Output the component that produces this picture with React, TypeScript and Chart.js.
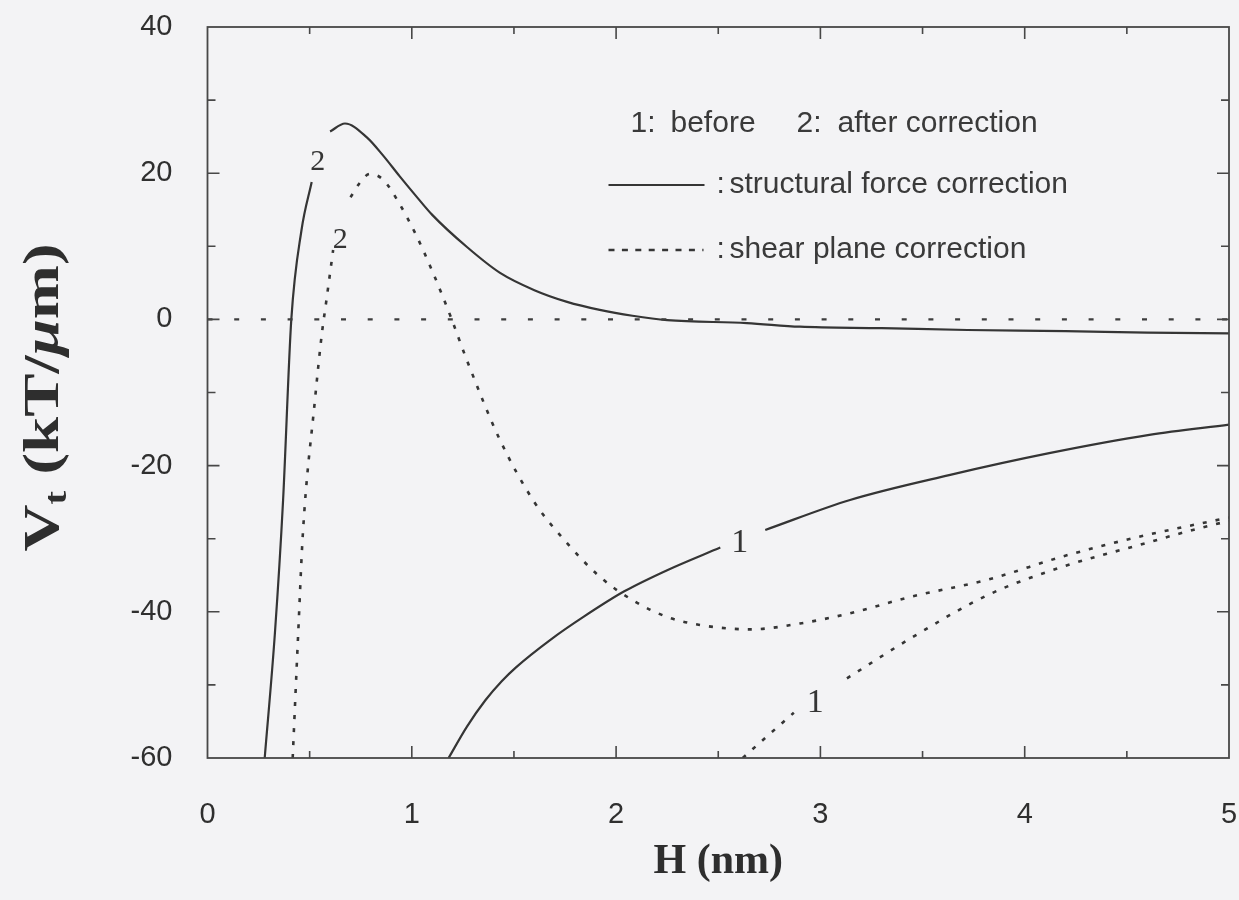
import { useEffect, useRef } from 'react';
import { Chart, registerables } from 'chart.js';

Chart.register(...registerables);

// Separation distance H (nm) and total interaction energy Vt (kT/µm)
// Curve "2" (after correction), structural force correction
const structAfterH = [0.28, 0.33, 0.37, 0.41, 0.46, 0.51, 0.555, 0.60, 0.673, 0.78, 0.86, 0.94, 1.02, 1.10, 1.27, 1.43, 1.60, 1.76, 1.92, 2.08, 2.25, 2.64, 2.90, 3.30, 3.72, 4.20, 4.60, 5.00];
const structAfterV = [-60, -42.9, -24.7, -0.1, 12.2, 18.8, null, 25.7, 26.8, 24.9, 22.4, 19.6, 16.9, 14.3, 9.9, 6.4, 4.0, 2.4, 1.3, 0.5, -0.1, -0.5, -1.0, -1.2, -1.45, -1.6, -1.8, -1.9];

// Curve "2" (after correction), shear plane correction
const shearAfterH = [0.417, 0.444, 0.467, 0.526, 0.56, 0.58, 0.615, 0.66, 0.70, 0.746, 0.795, 0.86, 0.94, 1.02, 1.105, 1.19, 1.27, 1.43, 1.60, 1.76, 1.92, 2.08, 2.25, 2.41, 2.66, 2.90, 3.13, 3.45, 3.82, 4.19, 4.55, 5.00];
const shearAfterV = [-60, -42.9, -29.2, -11.0, -1.9, 2.2, 9.5, null, 16.7, 18.7, 19.9, 19.1, 15.8, 11.6, 6.3, 0.4, -5.6, -16.4, -25.0, -30.6, -35.2, -38.4, -40.7, -41.8, -42.4, -41.6, -40.3, -37.9, -35.6, -32.4, -29.8, -27.1];

// Curve "1" (before correction), structural force correction
const structBeforeH = [1.18, 1.27, 1.36, 1.44, 1.51, 1.68, 1.84, 2.04, 2.25, 2.51, 2.62, 2.73, 3.145, 3.63, 4.12, 4.61, 5.00];
const structBeforeV = [-60, -55.7, -52.1, -49.5, -47.6, -43.8, -40.7, -37.2, -34.3, -31.2, null, -28.8, -24.7, -21.3, -18.3, -15.8, -14.4];

// Curve "1" (before correction), shear plane correction
const shearBeforeH = [2.62, 2.72, 2.87, 3.0, 3.13, 3.455, 3.82, 4.19, 4.555, 4.92, 5.00];
const shearBeforeV = [-60, -57.5, -53.8, null, -49.1, -43.4, -37.7, -33.8, -30.9, -28.1, -27.6];

// Zero reference line
const zeroH = [0, 5];
const zeroV = [0, 0];

// Curve tags placed on the curves
const tagText = ['2', '2', '1', '1'];
const tagH = [0.54, 0.65, 2.605, 2.975];
const tagV = [21.5, 10.9, -30.6, -52.5];
const tagSize = [30, 30, 34, 34];

// Legend lines
const legendTop = ['1:', 'before', '2:', 'after correction'];
const legendSolid = 'structural force correction';
const legendDotted = 'shear plane correction';

const BG = '#f3f3f5';
const INK = '#353535';
const SANS = '"Liberation Sans", Arial, Helvetica, sans-serif';
const SERIF = '"Liberation Serif", "Times New Roman", serif';

const zip = (hs: number[], vs: (number | null)[]) => hs.map((h, i) => ({ x: h, y: vs[i] }));

const decorPlugin = {
  id: 'decor',
  afterDatasetsDraw(chart: any) {
    const { ctx, chartArea: a, scales } = chart;
    const xs = scales.x;
    const ys = scales.y;
    ctx.save();

    // frame
    ctx.strokeStyle = '#474747';
    ctx.lineWidth = 1.8;
    ctx.strokeRect(a.left, a.top, a.right - a.left, a.bottom - a.top);

    // inward tick marks on all four sides
    ctx.lineWidth = 1.6;
    ctx.beginPath();
    for (let i = 1; i < 10; i++) {
      const px = xs.getPixelForValue(i * 0.5);
      const len = i % 2 === 0 ? 12 : 7;
      ctx.moveTo(px, a.bottom);
      ctx.lineTo(px, a.bottom - len);
      ctx.moveTo(px, a.top);
      ctx.lineTo(px, a.top + len);
    }
    for (let i = 1; i < 10; i++) {
      const py = ys.getPixelForValue(-60 + i * 10);
      const len = i % 2 === 0 ? 12 : 8;
      ctx.moveTo(a.left, py);
      ctx.lineTo(a.left + len, py);
      ctx.moveTo(a.right, py);
      ctx.lineTo(a.right - len, py);
    }
    ctx.stroke();

    // curve tags
    ctx.fillStyle = INK;
    ctx.textAlign = 'center';
    ctx.textBaseline = 'middle';
    tagText.forEach((t, i) => {
      ctx.font = `${tagSize[i]}px ${SERIF}`;
      ctx.fillText(t, xs.getPixelForValue(tagH[i]), ys.getPixelForValue(tagV[i]));
    });

    // legend block
    ctx.textAlign = 'left';
    ctx.font = `30px ${SANS}`;
    ctx.fillStyle = '#3a3a3a';
    const lx = a.left;
    const ty = a.top;
    const topXs = [423, 463, 589, 630];
    legendTop.forEach((s, i) => ctx.fillText(s, lx + topXs[i], ty + 97));

    ctx.strokeStyle = INK;
    ctx.lineWidth = 2;
    ctx.beginPath();
    ctx.moveTo(lx + 401, ty + 158);
    ctx.lineTo(lx + 497, ty + 158);
    ctx.stroke();
    ctx.fillText(':', lx + 509, ty + 158);
    ctx.fillText(legendSolid, lx + 522, ty + 158);

    ctx.lineWidth = 2.4;
    ctx.setLineDash([6, 7.4]);
    ctx.beginPath();
    ctx.moveTo(lx + 401, ty + 223);
    ctx.lineTo(lx + 496, ty + 223);
    ctx.stroke();
    ctx.setLineDash([]);
    ctx.fillText(':', lx + 509, ty + 223);
    ctx.fillText(legendDotted, lx + 522, ty + 223);

    ctx.restore();
  },
  afterDraw(chart: any) {
    const { ctx, chartArea: a } = chart;
    ctx.save();
    const cy = (a.top + a.bottom) / 2 + 5;
    ctx.translate(45, cy);
    ctx.rotate(-Math.PI / 2);
    ctx.scale(1.3, 1);
    ctx.fillStyle = '#2e2e2e';
    ctx.textBaseline = 'middle';
    ctx.textAlign = 'left';
    const big = `bold 50px ${SERIF}`;
    const small = `bold 32px ${SERIF}`;
    const ital = `italic bold 50px ${SERIF}`;
    const parts: [string, string, number][] = [
      ['V', big, 0],
      ['t', small, 13],
      [' (kT/', big, 0],
      ['\u03bc', ital, 0],
      ['m)', big, 0],
    ];
    let total = 0;
    parts.forEach(([s, f]) => { ctx.font = f; total += ctx.measureText(s).width; });
    let x = -total / 2;
    parts.forEach(([s, f, dy]) => {
      ctx.font = f;
      ctx.fillText(s, x, dy);
      x += ctx.measureText(s).width;
    });
    ctx.restore();
  },
};

export default function App() {
  const ref = useRef<HTMLCanvasElement | null>(null);

  useEffect(() => {
    document.body.style.margin = '0';
    document.body.style.background = BG;
    document.body.style.overflow = 'hidden';
    const canvas = ref.current;
    if (!canvas) return;

    const solid = { borderColor: INK, borderWidth: 2.2, pointRadius: 0, fill: false, cubicInterpolationMode: 'monotone' as const, spanGaps: false };
    const dotted = { ...solid, borderWidth: 2.6, borderDash: [4, 9] };

    const chart = new Chart(canvas, {
      type: 'line',
      data: {
        datasets: [
          { label: 'zero', data: zip(zeroH, zeroV), borderColor: '#3d3d3d', borderWidth: 2.2, borderDash: [5, 21.7], pointRadius: 0 },
          { label: 'structural force correction (2)', data: zip(structAfterH, structAfterV), ...solid },
          { label: 'shear plane correction (2)', data: zip(shearAfterH, shearAfterV), ...dotted },
          { label: 'structural force correction (1)', data: zip(structBeforeH, structBeforeV), ...solid },
          { label: 'shear plane correction (1)', data: zip(shearBeforeH, shearBeforeV), ...dotted },
        ] as any,
      },
      options: {
        animation: false,
        responsive: false,
        devicePixelRatio: 1,
        layout: { padding: { top: 27, right: 10, left: 0, bottom: 0 } },
        plugins: { legend: { display: false }, tooltip: { enabled: false } },
        scales: {
          x: {
            type: 'linear',
            min: 0,
            max: 5,
            grid: { display: false, drawTicks: false },
            border: { display: false },
            ticks: { stepSize: 1, padding: 40, color: '#2f2f2f', font: { family: SANS, size: 29 }, maxRotation: 0 },
            title: { display: true, text: 'H (nm)', color: '#2e2e2e', font: { family: SERIF, size: 42, weight: 'bold' }, padding: { top: 0, bottom: 13 } },
            afterFit: (s: any) => { s.height = 142; s.paddingLeft = 0; s.paddingRight = 0; },
          },
          y: {
            type: 'linear',
            min: -60,
            max: 40,
            grid: { display: false, drawTicks: false },
            border: { display: false },
            ticks: { stepSize: 20, padding: 35, color: '#2f2f2f', font: { family: SANS, size: 29 } },
            afterFit: (s: any) => { s.width = 207.5; s.paddingTop = 0; s.paddingBottom = 0; },
          },
        },
      } as any,
      plugins: [decorPlugin],
    });

    return () => chart.destroy();
  }, []);

  return (
    <canvas ref={ref} width={1239} height={900} style={{ display: 'block', background: BG }} />
  );
}
